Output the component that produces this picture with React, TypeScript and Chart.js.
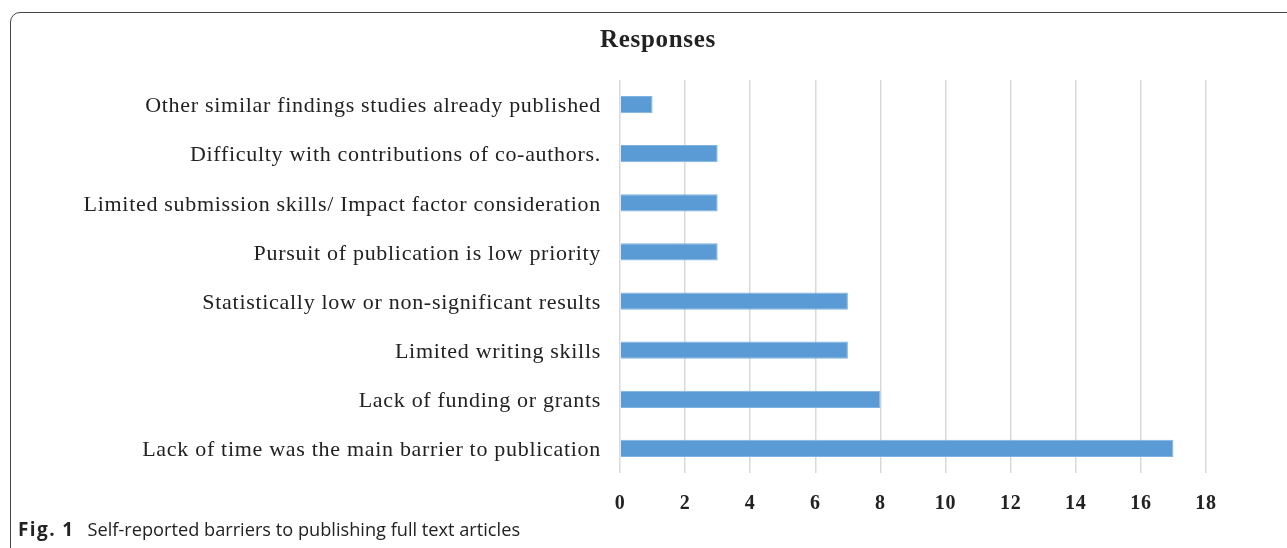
import React, { useEffect, useRef } from "react";
import { Chart, registerables } from "chart.js";

Chart.register(...registerables);

const categories: string[] = [
  "Other similar findings studies already published",
  "Difficulty with contributions of co-authors.",
  "Limited submission skills/ Impact factor consideration",
  "Pursuit of publication is low priority",
  "Statistically low or non-significant results",
  "Limited writing skills",
  "Lack of funding or grants",
  "Lack of time was the main barrier to publication",
];

const responses: number[] = [1, 3, 3, 3, 7, 7, 8, 17];

const xTicks: number[] = [0, 2, 4, 6, 8, 10, 12, 14, 16, 18];

const chartTitle = "Responses";

const SERIF = "'Liberation Serif', 'Times New Roman', serif";

const spacingPlugin = {
  id: "letterSpacing",
  afterLayout(chart: any) {
    const t = chart.titleBlock;
    if (t) {
      t.left = 0;
      t.right = 1280;
    }
  },
  beforeDraw(chart: any) {
    (chart.ctx as any).letterSpacing = "0.7px";
  },
  afterDraw(chart: any) {
    (chart.ctx as any).letterSpacing = "0px";
  },
};

export default function App() {
  const ref = useRef<HTMLCanvasElement | null>(null);

  useEffect(() => {
    if (!ref.current) return;
    const chart = new Chart(ref.current, {
      type: "bar",
      data: {
        labels: categories,
        datasets: [
          {
            label: chartTitle,
            data: responses,
            backgroundColor: "#5B9BD5",
            borderColor: "#7FB2E0",
            borderWidth: 1,
            categoryPercentage: 0.7,
            barPercentage: 0.5,
          },
        ],
      },
      plugins: [spacingPlugin],
      options: {
        indexAxis: "y",
        responsive: false,
        animation: false,
        layout: { padding: { left: 0, right: 12, top: 0, bottom: 0 } },
        plugins: {
          legend: { display: false },
          tooltip: { enabled: false },
          title: {
            display: true,
            text: chartTitle,
            color: "#222",
            font: { family: SERIF, size: 25, weight: "bold" },
            padding: { top: 6, bottom: 24 },
          },
        },
        scales: {
          x: {
            type: "linear",
            min: 0,
            max: 18,
            afterBuildTicks: (scale: any) => {
              scale.ticks = xTicks.map((v) => ({ value: v }));
            },
            afterFit: (scale: any) => {
              scale.height = 47;
              scale.paddingLeft = 0;
              scale.paddingRight = 0;
            },
            grid: { color: "#D9D9D9", lineWidth: 1.5, drawTicks: false },
            border: { display: false },
            ticks: {
              color: "#222",
              padding: 19,
              font: { family: SERIF, size: 20, weight: "bold" },
            },
          },
          y: {
            afterFit: (scale: any) => {
              scale.width = 602;
              scale.paddingTop = 0;
              scale.paddingBottom = 0;
            },
            grid: { display: false, drawTicks: false },
            border: { display: false },
            ticks: {
              color: "#222",
              padding: 19,
              labelOffset: 2,
              font: { family: SERIF, size: 22 },
            },
          },
        },
      },
    });
    return () => chart.destroy();
  }, []);

  return (
    <div>
      <div
        style={{
          position: "fixed",
          left: 10,
          top: 12,
          width: 1400,
          height: 700,
          border: "1.5px solid #444",
          borderTopLeftRadius: 10,
          boxSizing: "border-box",
        }}
      />
      <canvas
        ref={ref}
        width={1200}
        height={500}
        style={{ position: "fixed", left: 18, top: 20, width: 1200, height: 500 }}
      />
      <div
        style={{
          position: "fixed",
          left: 18,
          top: 518,
          fontFamily: "'Open Sans', 'Noto Sans', sans-serif",
          fontSize: 18.2,
          lineHeight: "22px",
          color: "#222",
          whiteSpace: "nowrap",
        }}
      >
        <b style={{ fontSize: 19, letterSpacing: "1.4px" }}>Fig. 1</b>
        <span style={{ marginLeft: 13 }}>Self-reported barriers to publishing full text articles</span>
      </div>
    </div>
  );
}
